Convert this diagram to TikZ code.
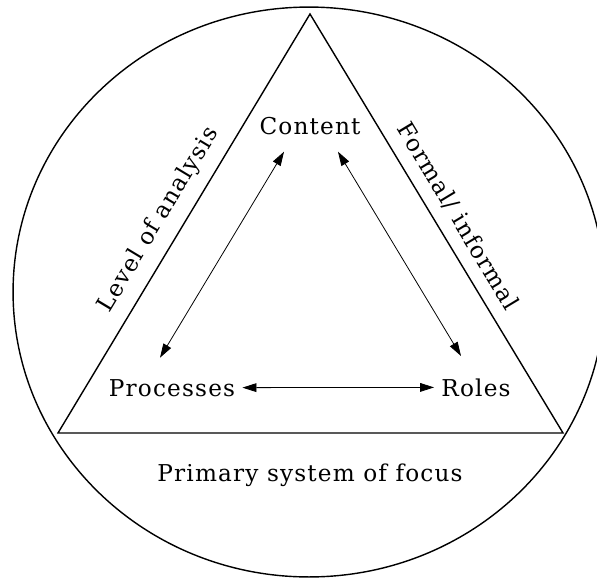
\documentclass[tikz,border=0pt]{standalone}
\usepackage{fontspec}
\setmainfont{DejaVu Serif}[LetterSpace=5]
\usetikzlibrary{arrows.meta,calc}

\begin{document}
\begin{tikzpicture}[x=0.02cm, y=-0.02cm,
    frame/.style={line width=0.8pt, draw=black},
    lbl/.style={font=\fontsize{13.2}{16}\selectfont, inner sep=4pt, anchor=base},
    side/.style={font=\fontsize{13.2}{16}\selectfont, sloped, above, inner sep=6.5pt},
    twoway/.style={{Triangle[length=8pt,width=5pt]}-{Triangle[length=8pt,width=5pt]}, line width=0.45pt}
]
    \useasboundingbox (0,0) rectangle (597,578);

    \draw[frame] (309,292) ellipse [x radius=5.92cm, y radius=5.7cm];

    \coordinate (apex) at (310,14);
    \coordinate (left) at (58,433);
    \coordinate (right) at (563,433);
    \draw[frame] (left) -- node[side, pos=0.48] (level) {Level of analysis} (apex)
        -- node[side, pos=0.51] (formal) {Formal/ informal} (right) -- cycle;

    \node[lbl] (content) at (310,134) {Content};
    \node[lbl] (processes) at (172,396) {Processes};
    \node[lbl] (roles) at (476,396) {Roles};
    \node[lbl] (focus) at (310,481) {Primary system of focus};

    \draw[twoway] ($(content.south)+(-26,10)$) -- ($(processes.north)+(-12,-14)$);
    \draw[twoway] ($(content.south)+(28,10)$) -- ($(roles.north)+(-15,-15)$);
    \draw[twoway] (processes) -- (roles);

\end{tikzpicture}
\end{document}
